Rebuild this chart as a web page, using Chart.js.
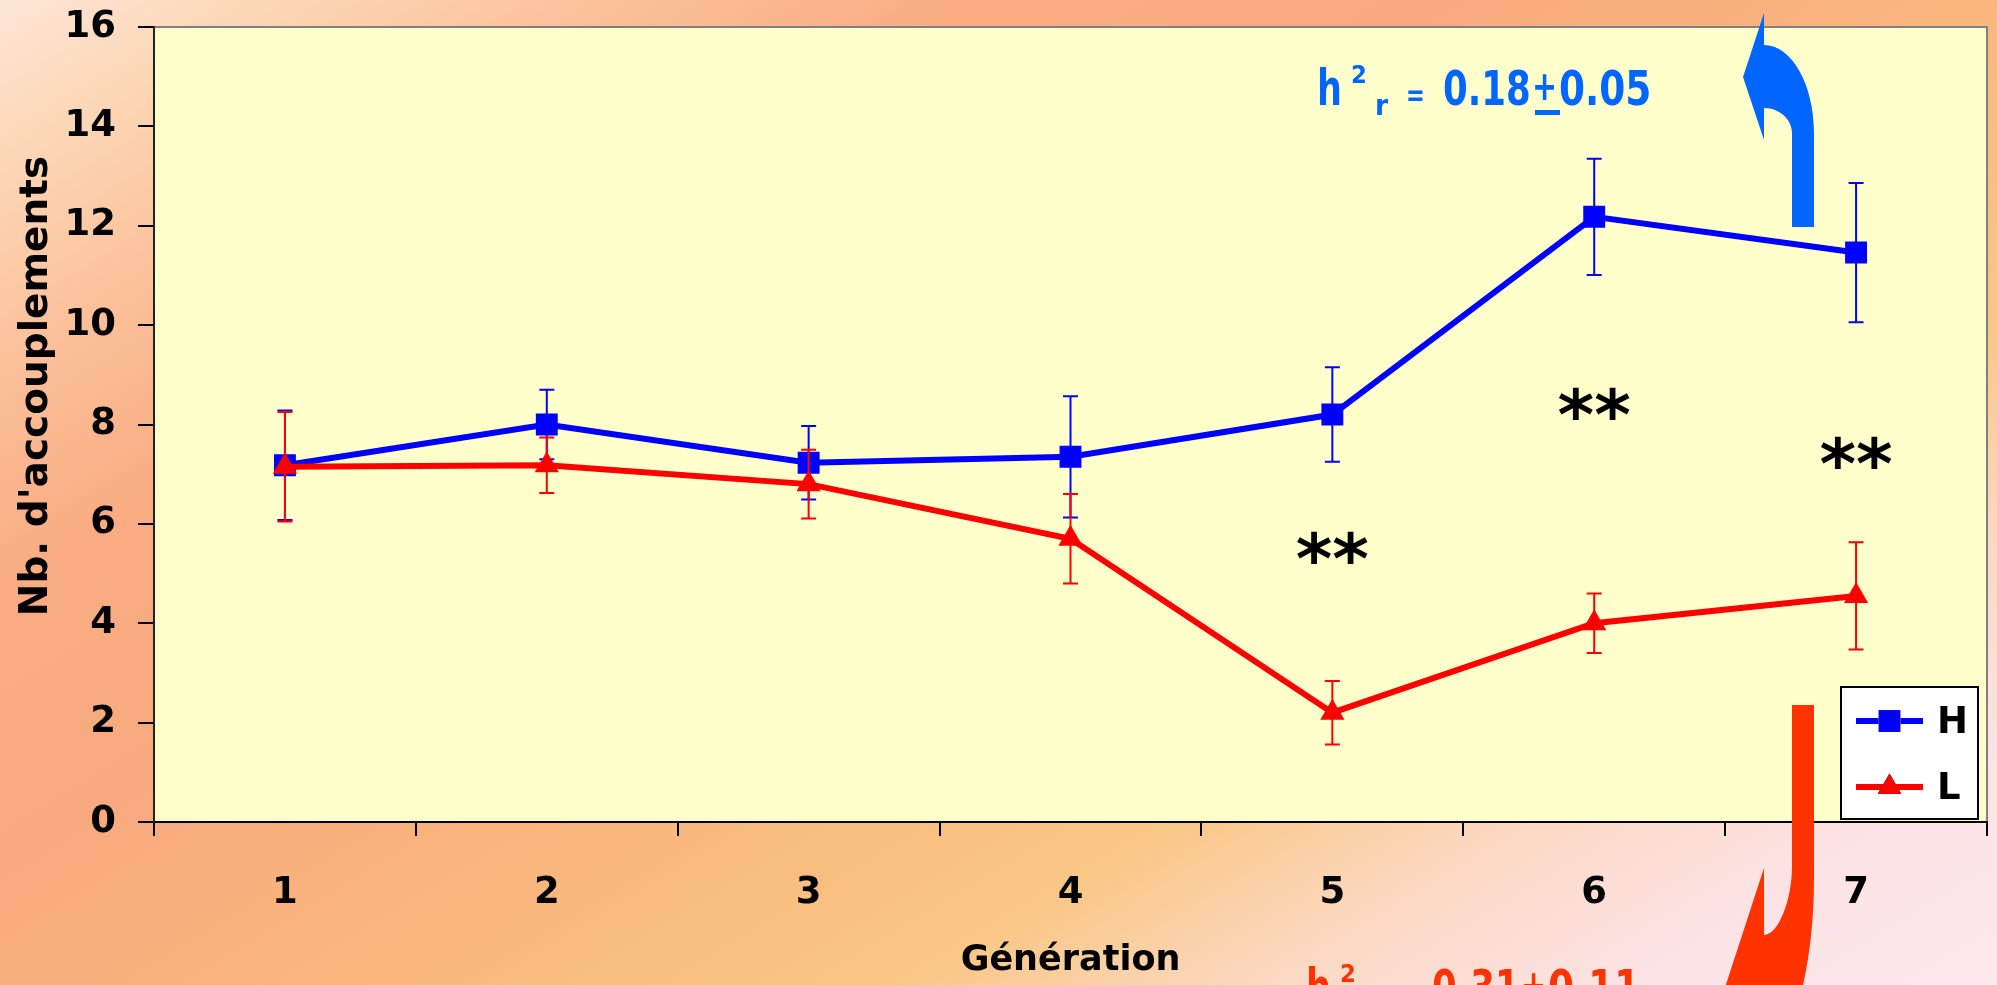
<!DOCTYPE html>
<html lang="fr">
<head>
  <meta charset="UTF-8">
  <title>Nb. d'accouplements par génération</title>
  <script src="https://cdn.jsdelivr.net/npm/chart.js"></script>
  <style>
    html, body { margin: 0; padding: 0; }
    body {
      width: 1997px;
      height: 985px;
      overflow: hidden;
      background: linear-gradient(149deg, #fde6d6 0%, #fcd6b4 8%, #fbc29c 16%, #f9ac82 27%,
        #f8aa7e 40%, #f9b47d 52%, #f9be7f 62%, #f9c786 70%, #fcd9c4 80%, #fce3e6 90%, #fde8ec 100%);
    }
    #wrap { position: relative; width: 1997px; height: 985px; }
  </style>
</head>
<body>
  <div id="wrap"><canvas id="matingChart"></canvas></div>

  <script>
    const generations = ['1', '2', '3', '4', '5', '6', '7'];

    // lignée H (haute)
    const highMeans = [7.18, 8.0, 7.23, 7.35, 8.2, 12.18, 11.46];
    const highErrors = [1.1, 0.7, 0.74, 1.22, 0.95, 1.17, 1.4];

    // lignée L (basse)
    const lowMeans = [7.15, 7.18, 6.8, 5.7, 2.2, 4.0, 4.55];
    const lowErrors = [1.1, 0.56, 0.69, 0.9, 0.64, 0.6, 1.08];

    const yMin = 0;
    const yMax = 16;
    const yStep = 2;

    // ** significance marks
    const sigGenerations = ['5', '6', '7'];
    const sigLevels = [5.53, 8.43, 7.44];

    const heritHigh = ['0.18', '0.05'];
    const heritLow = ['0.31', '0.11'];

    const FONT = '"DejaVu Sans", sans-serif';

    const errorBars = {
      id: 'errorBars',
      afterDatasetDraw(chart, args) {
        const ds = chart.data.datasets[args.index];
        const y = chart.scales.y;
        const ctx = chart.ctx;
        ctx.save();
        ctx.strokeStyle = ds.borderColor;
        ctx.lineWidth = 2;
        args.meta.data.forEach((pt, i) => {
          const top = y.getPixelForValue(ds.data[i] + ds.errors[i]);
          const bot = y.getPixelForValue(ds.data[i] - ds.errors[i]);
          ctx.beginPath();
          ctx.moveTo(pt.x, top); ctx.lineTo(pt.x, bot);
          ctx.moveTo(pt.x - 7.5, top); ctx.lineTo(pt.x + 7.5, top);
          ctx.moveTo(pt.x - 7.5, bot); ctx.lineTo(pt.x + 7.5, bot);
          ctx.stroke();
        });
        ctx.restore();
      }
    };

    const plotFrame = {
      id: 'plotFrame',
      beforeDraw(chart) {
        const { ctx, chartArea: a } = chart;
        ctx.save();
        ctx.fillStyle = '#FFFFCC';
        ctx.fillRect(a.left, a.top, a.width, a.height);
        ctx.strokeStyle = '#808080';
        ctx.lineWidth = 2;
        ctx.beginPath();
        ctx.moveTo(a.left, a.top);
        ctx.lineTo(a.right, a.top);
        ctx.lineTo(a.right, a.bottom);
        ctx.stroke();
        ctx.restore();
      }
    };

    function drawHeritability(ctx, x0, base, color, vals) {
      ctx.save();
      ctx.fillStyle = color;
      ctx.textAlign = 'left';
      ctx.textBaseline = 'alphabetic';
      const put = (txt, dx, dy, size, sx) => {
        ctx.save();
        ctx.translate(x0 + dx, base + dy);
        ctx.scale(sx, 1);
        ctx.font = 'bold ' + size + 'px ' + FONT;
        ctx.fillText(txt, 0, 0);
        ctx.restore();
      };
      put('h', -2, 0, 50, 0.7);
      put('2', 32, -22, 24, 0.95);
      put('r', 56, 10, 28, 0.95);
      put('=', 87, 0, 30, 0.75);
      put(vals[0], 124, 0, 48, 0.74);
      put('+', 213, -5, 40, 0.75);
      ctx.fillRect(x0 + 216, base + 5, 25, 5);
      put(vals[1], 240, 0, 48, 0.78);
      ctx.restore();
    }

    const annotations = {
      id: 'annotations',
      afterDraw(chart) {
        const { ctx, chartArea: a, scales } = chart;
        const R = a.right, T = a.top, B = a.bottom;
        ctx.save();

        // y axis title
        ctx.save();
        ctx.translate(37, 386);
        ctx.rotate(-Math.PI / 2);
        ctx.fillStyle = '#000';
        ctx.textAlign = 'center';
        ctx.textBaseline = 'middle';
        ctx.font = 'bold 39px ' + FONT;
        ctx.fillText("Nb. d'accouplements", 0, 0);
        ctx.restore();

        // ** marks
        ctx.fillStyle = '#000';
        ctx.font = 'bold 70px ' + FONT;
        ctx.textAlign = 'center';
        ctx.textBaseline = 'alphabetic';
        const m = ctx.measureText('**');
        sigGenerations.forEach((g, i) => {
          const cx = scales.x.getPixelForValue(generations.indexOf(g));
          const cy = scales.y.getPixelForValue(sigLevels[i]);
          ctx.fillText('**', cx, cy - (m.actualBoundingBoxDescent - m.actualBoundingBoxAscent) / 2);
        });

        // blue arrow (up)
        ctx.fillStyle = '#0066FF';
        ctx.beginPath();
        ctx.moveTo(R - 223, T - 14);
        ctx.lineTo(R - 223, T + 18);
        ctx.bezierCurveTo(R - 195, T + 18, R - 173, T + 58, R - 173, T + 106);
        ctx.lineTo(R - 173, T + 200);
        ctx.lineTo(R - 195, T + 200);
        ctx.lineTo(R - 195, T + 106);
        ctx.bezierCurveTo(R - 195, T + 92, R - 208, T + 81, R - 223, T + 81);
        ctx.lineTo(R - 223, T + 113);
        ctx.lineTo(R - 244, T + 50);
        ctx.closePath();
        ctx.fill();

        // red arrow (down)
        ctx.fillStyle = '#FF3300';
        ctx.beginPath();
        ctx.moveTo(R - 195, B - 117);
        ctx.lineTo(R - 173, B - 117);
        ctx.lineTo(R - 173, B + 58);
        ctx.bezierCurveTo(R - 173, B + 138, R - 192, B + 228, R - 223, B + 228);
        ctx.lineTo(R - 223, B + 278);
        ctx.lineTo(R - 271, B + 193);
        ctx.lineTo(R - 223, B + 46);
        ctx.lineTo(R - 223, B + 113);
        ctx.bezierCurveTo(R - 208, B + 113, R - 195, B + 76, R - 195, B + 45);
        ctx.closePath();
        ctx.fill();

        drawHeritability(ctx, 1319, 105, '#0066FF', heritHigh);
        drawHeritability(ctx, 1308, 1004, '#FF3300', heritLow);

        // legend box
        const lx1 = R - 146, lx2 = R - 9, ly1 = B - 135, ly2 = B - 3;
        ctx.fillStyle = '#FFFFFF';
        ctx.fillRect(lx1, ly1, lx2 - lx1, ly2 - ly1);
        ctx.strokeStyle = '#000';
        ctx.lineWidth = 2;
        ctx.strokeRect(lx1, ly1, lx2 - lx1, ly2 - ly1);
        const rows = [B - 101, B - 35];
        chart.data.datasets.forEach((ds, i) => {
          const ry = rows[i];
          ctx.strokeStyle = ds.borderColor;
          ctx.lineWidth = 6;
          ctx.beginPath();
          ctx.moveTo(lx1 + 15, ry);
          ctx.lineTo(lx1 + 82, ry);
          ctx.stroke();
          Chart.helpers.drawPoint(ctx, {
            pointStyle: ds.pointStyle,
            radius: ds.pointStyle === 'rect' ? 15.5 : 13.5,
            borderWidth: 0
          }, lx1 + 48.5, ry);
          ctx.fillStyle = ds.backgroundColor;
          ctx.fill();
          ctx.fillStyle = '#000';
          ctx.font = 'bold 37px ' + FONT;
          ctx.textAlign = 'left';
          ctx.textBaseline = 'middle';
          ctx.fillText(ds.label, lx1 + 96, ry + 2);
        });

        ctx.restore();
      }
    };

    const ctx = document.getElementById('matingChart').getContext('2d');
    new Chart(ctx, {
      type: 'line',
      data: {
        labels: generations,
        datasets: [
          {
            label: 'H',
            data: highMeans,
            errors: highErrors,
            borderColor: '#0000FF',
            backgroundColor: '#0000FF',
            borderWidth: 6,
            pointStyle: 'rect',
            pointRadius: 15.5,
            pointBorderWidth: 0,
            tension: 0,
            order: 1
          },
          {
            label: 'L',
            data: lowMeans,
            errors: lowErrors,
            borderColor: '#FF0000',
            backgroundColor: '#FF0000',
            borderWidth: 6,
            pointStyle: 'triangle',
            pointRadius: 14,
            pointBorderWidth: 0,
            tension: 0,
            order: 0
          }
        ]
      },
      options: {
        responsive: true,
        maintainAspectRatio: false,
        animation: false,
        layout: { autoPadding: false, padding: { top: 27, right: 10, left: 0, bottom: 0 } },
        plugins: {
          legend: { display: false },
          tooltip: { enabled: false }
        },
        scales: {
          x: {
            offset: true,
            grid: { offset: true, drawOnChartArea: false, tickLength: 14, color: '#000', lineWidth: 2 },
            border: { color: '#000', width: 2 },
            ticks: { color: '#000', font: { family: FONT, size: 37, weight: 'bold' }, padding: 35 },
            title: {
              display: true,
              text: 'Génération',
              color: '#000',
              font: { family: FONT, size: 35, weight: 'bold' },
              padding: { top: 0, bottom: 3 }
            },
            afterFit(scale) {
              scale.height = 163;
              scale.paddingLeft = 0;
              scale.paddingRight = 0;
            }
          },
          y: {
            min: yMin,
            max: yMax,
            ticks: { stepSize: yStep, color: '#000', font: { family: FONT, size: 37, weight: 'bold' }, padding: 22 },
            grid: { drawOnChartArea: false, tickLength: 16, color: '#000', lineWidth: 2 },
            border: { color: '#222', width: 2 },
            afterFit(scale) {
              scale.width = 154;
              scale.paddingTop = 0;
              scale.paddingBottom = 0;
            }
          }
        }
      },
      plugins: [plotFrame, errorBars, annotations]
    });
  </script>
</body>
</html>
